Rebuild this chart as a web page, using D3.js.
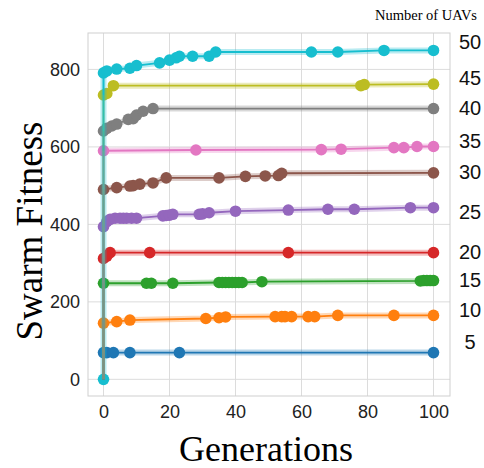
<!DOCTYPE html>
<html>
<head>
<meta charset="utf-8">
<script src="https://cdn.jsdelivr.net/npm/d3@7"></script>
<style>
  body { margin: 0; background: #fff; }
</style>
</head>
<body>
<div id="chart"></div>
<script>
// Number of UAVs for each run
const uavCounts = [5, 10, 15, 20, 25, 30, 35, 40, 45, 50];

// generations where the best fitness was recorded, and the fitness
const gens5 = [0, 1, 3, 8, 23, 100];
const fit5 = [69, 69, 69, 69, 69, 69];

const gens10 = [0, 4, 8, 31, 35, 37, 52, 54, 55, 57, 62, 64, 71, 88, 100];
const fit10 = [145, 149, 153, 157, 159, 161, 162, 162, 162, 162, 162, 162, 165, 165, 165];

const gens15 = [0, 13, 14.5, 21, 35, 36, 37, 38, 39, 40, 41, 42, 48, 96, 97, 98, 99, 100];
const fit15 = [248, 248, 248, 248, 250, 250, 250, 250, 250, 250, 250, 250, 252, 254, 255, 255, 255, 255];

const gens20 = [0, 1, 2, 14, 56, 100];
const fit20 = [312, 318, 327, 327, 327, 327];

const gens25 = [0, 1, 2, 3.5, 5, 6, 7, 8.5, 10, 18, 19, 20, 21, 29, 30, 32, 40, 56, 68, 76, 93, 100];
const fit25 = [394, 407, 413, 416, 416, 416, 416, 416, 416, 422, 423, 424, 426, 426, 427, 430, 434, 437, 439, 439, 443, 443];

const gens30 = [0, 4, 8, 9, 11, 15, 19, 35, 43, 49, 53, 54, 100];
const fit30 = [490, 495, 499, 500, 504, 507, 520, 520, 524, 525, 526, 532, 533];

const gens35 = [0, 28, 66, 72, 88, 91, 95, 100];
const fit35 = [590, 592, 593, 594, 598, 598, 601, 601];

const gens40 = [0, 1, 2.5, 4, 7.5, 9, 10, 12, 15, 100];
const fit40 = [641, 648, 654, 659, 671, 673, 682, 692, 699, 699];

const gens45 = [0, 1, 3, 78, 79, 100];
const fit45 = [734, 738, 758, 758, 761, 762];

const gens50 = [0, 0, 1, 4, 8, 10, 17, 20, 22, 23, 27, 32, 34, 63, 71, 85, 100];
const fit50 = [0, 791, 796, 801, 803, 810, 817, 824, 830, 834, 834, 834, 845, 845, 845, 849, 849];

const allGens = [gens5, gens10, gens15, gens20, gens25, gens30, gens35, gens40, gens45, gens50];
const allFits = [fit5, fit10, fit15, fit20, fit25, fit30, fit35, fit40, fit45, fit50];

// where the "Number of UAVs" labels sit on the right (fitness units)
const uavLabelAt = [96, 179, 256, 329, 432, 535, 615, 700, 778, 870];

const xTicks = [0, 20, 40, 60, 80, 100];
const yTicks = [0, 200, 400, 600, 800];

const colors = d3.schemeCategory10;
const sans = "Liberation Sans, Arial, sans-serif";
const serif = "Liberation Serif, Times New Roman, serif";

const width = 484;
const height = 468;
const margin = {top: 33, right: 34, bottom: 72, left: 88};

const x = d3.scaleLinear().domain([-4.7, 105]).range([margin.left, width - margin.right]);
const y = d3.scaleLinear().domain([-43, 894]).range([height - margin.bottom, margin.top]);

const svg = d3.select("#chart").append("svg")
    .attr("width", width)
    .attr("height", height);

// grid
svg.append("g")
    .attr("stroke", "#dcdcdc")
    .selectAll("line")
    .data(xTicks)
    .join("line")
    .attr("x1", d => x(d)).attr("x2", d => x(d))
    .attr("y1", margin.top).attr("y2", height - margin.bottom);

svg.append("g")
    .attr("stroke", "#dcdcdc")
    .selectAll("line")
    .data(yTicks)
    .join("line")
    .attr("x1", margin.left).attr("x2", width - margin.right)
    .attr("y1", d => y(d)).attr("y2", d => y(d));

// frame
svg.append("rect")
    .attr("x", margin.left)
    .attr("y", margin.top)
    .attr("width", width - margin.left - margin.right)
    .attr("height", height - margin.top - margin.bottom)
    .attr("fill", "none")
    .attr("stroke", "#cfcfcf");

// axes
const xAxis = svg.append("g")
    .attr("transform", `translate(0,${height - margin.bottom})`)
    .call(d3.axisBottom(x).tickValues(xTicks).tickSize(0).tickPadding(9));
xAxis.select(".domain").remove();
xAxis.attr("font-family", sans);
xAxis.selectAll("text").attr("font-size", 18).attr("fill", "#222");

const yAxis = svg.append("g")
    .attr("transform", `translate(${margin.left},0)`)
    .call(d3.axisLeft(y).tickValues(yTicks).tickSize(0).tickPadding(8));
yAxis.select(".domain").remove();
yAxis.attr("font-family", sans);
yAxis.selectAll("text").attr("font-size", 18).attr("fill", "#222");

const rAxis = svg.append("g")
    .attr("transform", `translate(${width - margin.right},0)`)
    .call(d3.axisRight(y).tickValues(uavLabelAt).tickSize(0)
        .tickFormat((d, i) => uavCounts[i]));
rAxis.select(".domain").remove();
rAxis.attr("font-family", sans);
rAxis.selectAll("text").attr("font-size", 20).attr("fill", "#111")
    .attr("text-anchor", "middle").attr("x", 20);

// series
const line = d3.line().x(d => x(d[0])).y(d => y(d[1]));

uavCounts.forEach((n, i) => {
    const pts = allGens[i].map((g, j) => [g, allFits[i][j]]);
    const g = svg.append("g");
    g.append("path")
        .attr("d", line(pts))
        .attr("fill", "none")
        .attr("stroke", colors[i])
        .attr("stroke-opacity", 0.3)
        .attr("stroke-width", 6);
    g.append("path")
        .attr("d", line(pts))
        .attr("fill", "none")
        .attr("stroke", colors[i])
        .attr("stroke-width", 1.8);
    g.selectAll("circle")
        .data(pts)
        .join("circle")
        .attr("cx", d => x(d[0]))
        .attr("cy", d => y(d[1]))
        .attr("r", 5.8)
        .attr("fill", colors[i]);
});

// every run starts from zero at generation 0: darker overlapping stem
svg.append("g")
    .selectAll("path")
    .data(uavCounts.map((n, i) => [[0, 0], [allGens[i][0], allFits[i][allGens[i][0] === 0 && allFits[i][0] === 0 ? 1 : 0]]]))
    .join("path")
    .attr("d", line)
    .attr("fill", "none")
    .attr("stroke", (d, i) => colors[i])
    .attr("stroke-opacity", 0.22)
    .attr("stroke-width", 3);

// labels
svg.append("text")
    .attr("x", 426)
    .attr("y", 19.5)
    .attr("text-anchor", "middle")
    .attr("font-family", serif)
    .attr("font-size", 14.5)
    .text("Number of UAVs");

svg.append("text")
    .attr("transform", "translate(42,231) rotate(-90)")
    .attr("text-anchor", "middle")
    .attr("font-family", serif)
    .attr("font-size", 37)
    .text("Swarm Fitness");

svg.append("text")
    .attr("x", 266)
    .attr("y", 461)
    .attr("text-anchor", "middle")
    .attr("font-family", serif)
    .attr("font-size", 36)
    .text("Generations");
</script>
</body>
</html>
